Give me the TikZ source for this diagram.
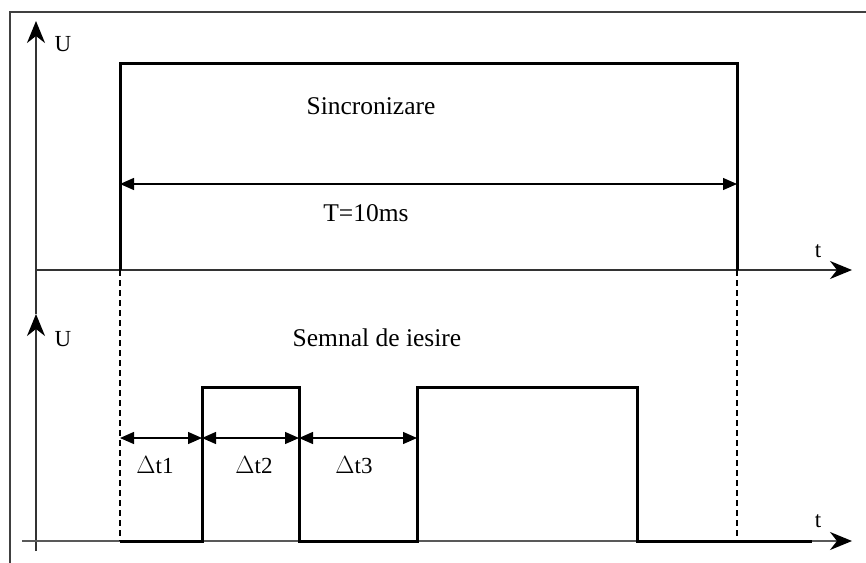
\documentclass[tikz,border=0pt]{standalone}
\usepackage{fontspec}
\setmainfont{Liberation Serif}
\usetikzlibrary{arrows.meta}
\begin{document}
\begin{tikzpicture}[x=1pt,y=-1pt,
  axis/.style={line width=1.6pt,draw=black!80,-{Stealth[length=22pt,width=18pt,inset=7pt,color=black]}},
  signal/.style={line width=3pt,line join=miter,line cap=butt},
  dim/.style={line width=1.3pt,{Triangle[length=14pt,width=12pt]}-{Triangle[length=14pt,width=12pt]}},
  guide/.style={line width=1.3pt,dash pattern=on 6pt off 4pt},
  lbl/.style={inner sep=0pt,font=\fontsize{25.5}{28}\selectfont},
  dlbl/.style={inner sep=0pt,font=\fontsize{23}{26}\selectfont},
  ax/.style={inner sep=0pt,font=\fontsize{23}{26}\selectfont}]
\useasboundingbox (0,0) rectangle (866,562);
% frame
\draw[line width=2pt,draw=black!75] (10,575) -- (10,12) -- (880,12);

% coordinates of the two time axes
\coordinate (ubot) at (36,551);
\coordinate (u2) at (36,314);
\coordinate (u1) at (36,21);
\coordinate (t1s) at (36,270);
\coordinate (t1e) at (852,270);
\coordinate (t2s) at (22,541);
\coordinate (t2e) at (852,541);

% axes
\draw[axis] (ubot) -- (u2);
\draw[axis] (u2) -- (u1);
\draw[axis] (t1s) -- (t1e);
\draw[axis,draw=black!65] (t2s) -- (t2e);
\node[ax] (lu1) at (63,44) {U};
\node[ax] (lu2) at (63,339) {U};
\node[ax] (lt1) at (818,251) {t};
\node[ax] (lt2) at (818,521) {t};

% synchronisation pulse
\coordinate (a0) at (120,270);
\coordinate (a1) at (120,63);
\coordinate (a2) at (737,63);
\coordinate (a3) at (737,270);
\draw[signal] (a0) -- (a1) -- (a2) -- (a3);
\coordinate (ta) at (120,184);
\coordinate (tb) at (737,184);
\draw[dim] (ta) -- (tb);
\node[lbl] (sync) at (371,106) {Sincronizare};
\node[lbl] (per) at (366,213) {T=10ms};

% guide lines
\coordinate (g0) at (120,541);
\coordinate (g1) at (737,541);
\draw[guide] (a0) -- (g0);
\draw[guide] (a3) -- (g1);

% output signal
\coordinate (b1) at (202,541);
\coordinate (b2) at (202,387);
\coordinate (b3) at (299,387);
\coordinate (b4) at (299,541);
\coordinate (b5) at (417,541);
\coordinate (b6) at (417,387);
\coordinate (b7) at (637,387);
\coordinate (b8) at (637,541);
\coordinate (b9) at (812,541);
\draw[signal] (g0) -- (b1) -- (b2) -- (b3) -- (b4) -- (b5) -- (b6) -- (b7) -- (b8) -- (b9);
\node[lbl] (out) at (377,338) {Semnal de iesire};

% delays
\coordinate (d0) at (120,438);
\coordinate (d1) at (202,438);
\coordinate (d2) at (299,438);
\coordinate (d3) at (417,438);
\draw[dim] (d0) -- (d1);
\draw[dim] (d1) -- (d2);
\draw[dim] (d2) -- (d3);
\node[dlbl] (dt1) at (155,465) {$\Delta$t1};
\node[dlbl] (dt2) at (254,465) {$\Delta$t2};
\node[dlbl] (dt3) at (354,465) {$\Delta$t3};
\end{tikzpicture}
\end{document}
